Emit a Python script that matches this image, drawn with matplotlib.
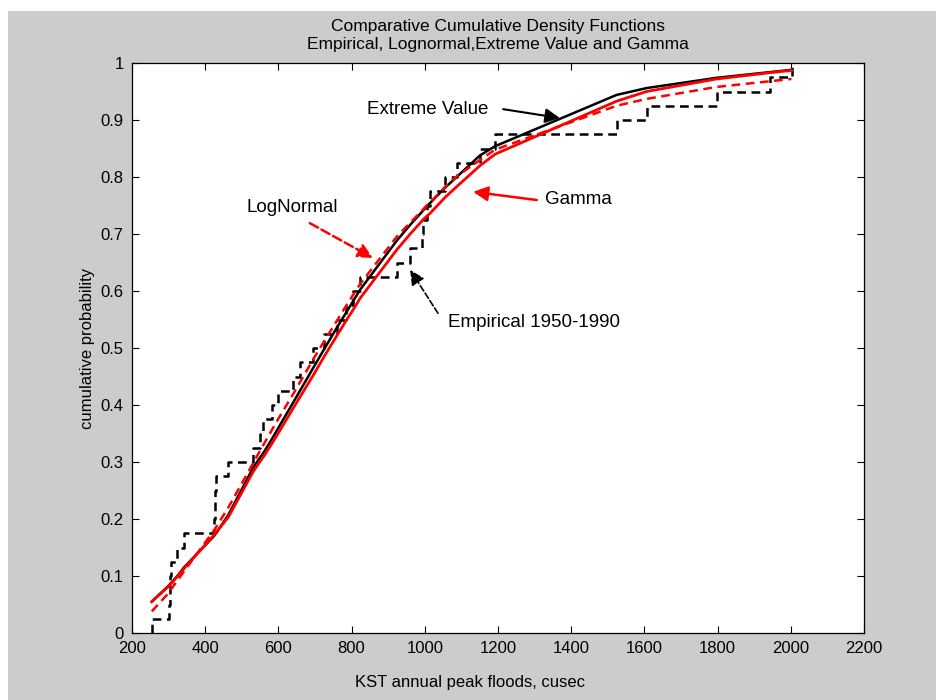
import numpy as np
import matplotlib
matplotlib.use("Agg")
import matplotlib.pyplot as plt
from matplotlib.patches import Rectangle

plt.rcParams['font.family'] = ['Liberation Sans', 'DejaVu Sans']

# sorted annual peak floods (cusec), 1950-1990
flows = [254, 300, 303, 305, 307, 324, 342, 424, 426, 428,
         430, 463, 531, 550, 559, 582, 600, 641, 659, 695,
         725, 760, 785, 805, 823, 923, 960, 991, 995, 1005,
         1014, 1055, 1087, 1151, 1192, 1524, 1606, 1797, 1943, 2002]
ecdf = [(i + 1) / 40 for i in range(40)]

# fitted cdfs at the same flows
cdf_ev = [0.055, 0.083, 0.085, 0.087, 0.088, 0.100, 0.115, 0.170, 0.172, 0.174,
          0.175, 0.207, 0.290, 0.308, 0.316, 0.340, 0.360, 0.405, 0.425, 0.465,
          0.498, 0.536, 0.562, 0.583, 0.602, 0.688, 0.716, 0.738, 0.741, 0.748,
          0.754, 0.781, 0.800, 0.838, 0.854, 0.944, 0.956, 0.974, 0.984, 0.988]
cdf_gamma = [0.055, 0.082, 0.084, 0.085, 0.087, 0.099, 0.113, 0.172, 0.174, 0.175,
             0.177, 0.203, 0.283, 0.301, 0.309, 0.332, 0.351, 0.395, 0.414, 0.452,
             0.485, 0.522, 0.548, 0.568, 0.587, 0.672, 0.700, 0.722, 0.725, 0.731,
             0.736, 0.764, 0.783, 0.820, 0.840, 0.933, 0.950, 0.972, 0.983, 0.987]
cdf_lognorm = [0.038, 0.070, 0.073, 0.075, 0.077, 0.092, 0.108, 0.180, 0.182, 0.184,
               0.186, 0.220, 0.298, 0.320, 0.330, 0.356, 0.376, 0.420, 0.440, 0.480,
               0.512, 0.548, 0.574, 0.594, 0.612, 0.695, 0.720, 0.740, 0.743, 0.750,
               0.755, 0.782, 0.801, 0.830, 0.848, 0.925, 0.937, 0.958, 0.968, 0.972]

fig = plt.figure(figsize=(9.36, 7.0), dpi=100, facecolor='#cccccc')
# white margins at top and left of the captured window
fig.patches.append(Rectangle((0, 1 - 11 / 700), 1, 11 / 700, transform=fig.transFigure,
                             facecolor='white', edgecolor='none', zorder=-1))
fig.patches.append(Rectangle((0, 0), 8 / 936, 1, transform=fig.transFigure,
                             facecolor='white', edgecolor='none', zorder=-1))

ax = fig.add_axes([132 / 936, 67 / 700, 732 / 936, 570 / 700])
ax.set_facecolor('white')

ax.step([flows[0]] + flows, [0] + ecdf, where='post', color='black', lw=1.8,
        linestyle=(0, (3.5, 2.2)))
ax.plot(flows, cdf_ev, color='black', lw=1.8)
ax.plot(flows, cdf_gamma, color='red', lw=2.0)
ax.plot(flows, cdf_lognorm, color='red', lw=1.8, linestyle=(0, (3.5, 2.2)))

ax.set_xlim(200, 2200)
ax.set_ylim(0, 1)
ax.set_xticks(np.arange(200, 2201, 200))
ax.set_yticks(np.arange(0, 1.01, 0.1))
ax.set_yticklabels(['0', '0.1', '0.2', '0.3', '0.4', '0.5', '0.6', '0.7', '0.8', '0.9', '1'])
ax.tick_params(direction='in', length=5, width=0.8, top=True, right=True,
               labelsize=12, colors='black')
ax.tick_params(axis='x', pad=6)
ax.tick_params(axis='y', pad=6)
for s in ax.spines.values():
    s.set_linewidth(0.9)

ax.set_title('Comparative Cumulative Density Functions\n'
             'Empirical, Lognormal,Extreme Value and Gamma', fontsize=12.5,
             pad=10, linespacing=1.25)
ax.set_xlabel('KST annual peak floods, cusec', fontsize=12)
ax.xaxis.set_label_coords(0.462, -0.073)
ax.set_ylabel('cumulative probability', fontsize=12)
ax.yaxis.set_label_coords(-0.050, 0.5)

# labels with arrows
fs = 13.5
ax.text(842, 0.919, 'Extreme Value', fontsize=fs, va='center', ha='left')
ax.annotate('', xy=(1369, 0.9035), xytext=(1214, 0.919),
            arrowprops=dict(arrowstyle='-|>', color='black', lw=1.5,
                            mutation_scale=22, shrinkA=0, shrinkB=0))
ax.text(1328, 0.761, 'Gamma', fontsize=fs, va='center', ha='left')
ax.annotate('', xy=(1132, 0.774), xytext=(1306, 0.7596),
            arrowprops=dict(arrowstyle='-|>', color='red', lw=1.8,
                            mutation_scale=22, shrinkA=0, shrinkB=0))
ax.text(514, 0.746, 'LogNormal', fontsize=fs, va='center', ha='left')
ax.annotate('', xy=(858, 0.658), xytext=(686, 0.719),
            arrowprops=dict(arrowstyle='-|>', color='red', lw=1.8, linestyle='--',
                            mutation_scale=22, shrinkA=0, shrinkB=0))
ax.text(1063, 0.544, 'Empirical 1950-1990', fontsize=fs, va='center', ha='left')
ax.annotate('', xy=(960, 0.637), xytext=(1036, 0.561),
            arrowprops=dict(arrowstyle='-|>', color='black', lw=1.2, linestyle='--',
                            mutation_scale=22, shrinkA=0, shrinkB=0))

fig.savefig('out.png', dpi=100, facecolor=fig.get_facecolor())
